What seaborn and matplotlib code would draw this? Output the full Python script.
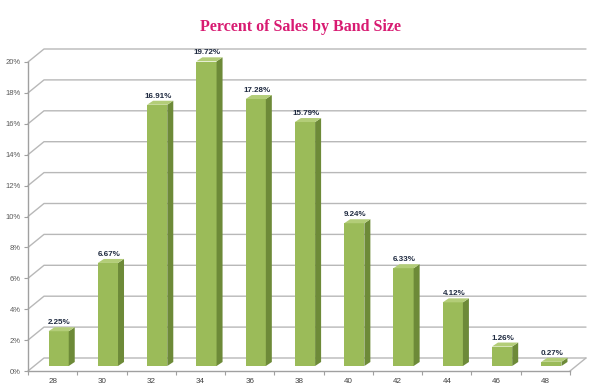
import matplotlib
matplotlib.use("Agg")
import numpy as np
import pandas as pd
import matplotlib.pyplot as plt
import seaborn as sns
from matplotlib.patches import Polygon

# Data
band_sizes = ["28", "30", "32", "34", "36", "38", "40", "42", "44", "46", "48"]
pct_sales = [2.25, 6.67, 16.91, 19.72, 17.28, 15.79, 9.24, 6.33, 4.12, 1.26, 0.27]
y_ticks = list(range(0, 21, 2))
y_tick_labels = [f"{v}%" for v in y_ticks]

FRONT = "#9bbb59"
SIDE = "#6d8a38"
TOP = "#b3cd78"
GRID = "#b8b8b8"
AXIS = "#a0a0a0"
PINK = "#d81b72"

sns.set_style("white")
plt.rcParams["font.family"] = ["Liberation Sans", "DejaVu Sans"]

df = pd.DataFrame({"band": band_sizes, "pct": pct_sales})

fig = plt.figure(figsize=(6, 3.92), dpi=100)
ax = fig.add_axes([28 / 600, 21 / 392, 542 / 600, 309 / 392])
sns.barplot(data=df, x="band", y="pct", color=FRONT, saturation=1, width=0.41,
            edgecolor="none", ax=ax, zorder=3)
ax.set_xlim(-0.5, len(band_sizes) - 0.5)
ax.set_ylim(0, 20)

# pixel -> data conversion for the fake 3D depth
p0 = ax.transData.transform((0, 0))
p1 = ax.transData.transform((1, 1))
ux, uy = p1[0] - p0[0], p1[1] - p0[1]

def px(dx, dy):
    return dx / ux, dy / uy

wall_dx, wall_dy = px(16, 13)    # back wall offset
bar_dx, bar_dy = px(6, 5)        # bars sit half way into the floor
dep_dx, dep_dy = px(6, 4)        # depth of each bar

x_lo, x_hi = ax.get_xlim()

# back wall gridlines and floor
for y in y_ticks:
    ax.plot([x_lo, x_lo + wall_dx, x_hi + wall_dx], [y, y + wall_dy, y + wall_dy],
            color=GRID, lw=1, clip_on=False, zorder=1)
ax.plot([x_hi, x_hi + wall_dx], [0, wall_dy], color=GRID, lw=1, clip_on=False, zorder=1)

bars = list(ax.patches)
for p, v in zip(bars, pct_sales):
    p.set_x(p.get_x() + bar_dx)
    p.set_y(bar_dy)
    x0, w, y0 = p.get_x(), p.get_width(), p.get_y()
    y1 = y0 + p.get_height()
    side = Polygon([(x0 + w, y0), (x0 + w + dep_dx, y0 + dep_dy),
                    (x0 + w + dep_dx, y1 + dep_dy), (x0 + w, y1)],
                   closed=True, facecolor=SIDE, edgecolor="none", zorder=3, clip_on=False)
    top = Polygon([(x0, y1), (x0 + w, y1), (x0 + w + dep_dx, y1 + dep_dy),
                   (x0 + dep_dx, y1 + dep_dy)],
                  closed=True, facecolor=TOP, edgecolor="none", zorder=3, clip_on=False)
    ax.add_patch(side)
    ax.add_patch(top)
    ax.annotate(f"{v:.2f}%", xy=(x0 + w / 2, y1), xytext=(1, 5), textcoords="offset pixels",
                ha="center", va="bottom", fontsize=5.8, fontweight="bold", color="#1f2a40",
                zorder=5, annotation_clip=False)

sns.despine(ax=ax)
for s in ["left", "bottom"]:
    ax.spines[s].set_color(AXIS)
    ax.spines[s].set_linewidth(1)
    ax.spines[s].set_zorder(2)

ax.set_yticks(y_ticks)
ax.set_yticklabels(y_tick_labels)
ax.set_xticks(np.arange(-0.5, len(band_sizes), 1), minor=True)
ax.tick_params(axis="y", left=True, length=3, width=0.8, color=AXIS,
               labelsize=5.5, labelcolor="#595959", pad=2)
ax.tick_params(axis="x", which="major", bottom=True, length=0, labelsize=5.8,
               labelcolor="#404040", pad=5)
ax.tick_params(axis="x", which="minor", bottom=True, length=3, width=0.8, color=AXIS)
ax.set_xlabel("")
ax.set_ylabel("")
ax.grid(False)

fig.text(0.5, 1 - 27 / 392, "Percent of Sales by Band Size", ha="center", va="center",
         fontsize=11.5, fontweight="bold", family=["Liberation Serif", "DejaVu Serif"], color=PINK)

fig.savefig("out.png", dpi=100)
